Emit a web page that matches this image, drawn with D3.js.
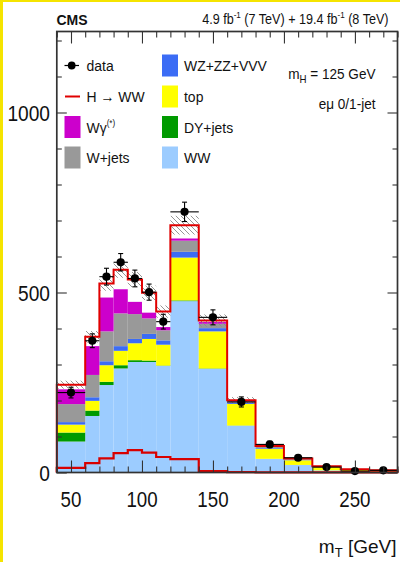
<!DOCTYPE html>
<html><head><meta charset="utf-8">
<script src="https://cdn.jsdelivr.net/npm/d3@7"></script>
<style>body{margin:0;background:#fff}svg{display:block}text{font-family:"Liberation Sans",Arial,sans-serif;fill:#111}</style>
</head><body><svg id="c" width="400" height="562"></svg>
<script>
// ---- data ----
const binEdges = [40,60,70,80,90,100,110,120,140,160,180,200,220,240,260,280];
const ww    = [86,157,243,289,307,307,296,476,288,130,38,21,6,3,2];
const dyj   = [25,15,9,9,5,4,1,2,1,0.5,0,0,0,0,0];
const topq  = [22,27,46,40,47,60,58,119,103,60,28,13,9,4,3];
const vvv   = [7,10,11,13,12,14,12,16,9,4,2,1.5,0.7,0.3,0.3];
const wjets = [50,62,83,91,69,43,28,31,12,3,3,2,1,1,0.7];
const wgam  = [41,80,94,67,34,16,9,6,5,2,2,1,0.5,0.5,0.3];
const hww   = [13,26,39,54,62,55,43,37,4,1,0.5,0.3,0.2,0.1,0.1];
const dataV = [222,366,544,584,539,501,419,724,431,196,78,41,15,4,6];
const totUnc = [11,16,20,22,21,20,17,26,17,9,4,2,1,0.5,0.5];
const xMajor = [50,100,150,200,250];
const yMajor = [0,500,1000];

const svg = d3.select("#c");
const L=56.8, R=397.5, T=31.5, B=472.5;
const x = d3.scaleLinear().domain([40,280]).range([L,R]);
const y = d3.scaleLinear().domain([0,1225]).range([B,T]);

// yellow page border
svg.append("rect").attr("x",0).attr("y",0).attr("width",3).attr("height",562).attr("fill","#f5e400");
svg.append("rect").attr("x",0).attr("y",0).attr("width",400).attr("height",2).attr("fill","#f5e400");

const comps = [
  {name:"WW", vals:ww, col:"#9cccff"},
  {name:"DY+jets", vals:dyj, col:"#009a00"},
  {name:"top", vals:topq, col:"#ffff00"},
  {name:"WZ+ZZ+VVV", vals:vvv, col:"#3b6cf5"},
  {name:"W+jets", vals:wjets, col:"#999999"},
  {name:"Wg", vals:wgam, col:"#cc00cc"}
];
const nb = dataV.length;
const bins = d3.range(nb).map(i=>({x0:binEdges[i],x1:binEdges[i+1]}));
const plot = svg.append("g");
const cum = new Array(nb).fill(0);
comps.forEach(c=>{
  bins.forEach((b,i)=>{
    const lo=cum[i], hi=cum[i]+c.vals[i];
    if (c.vals[i]>0) plot.append("rect").attr("x",x(b.x0)).attr("width",x(b.x1)-x(b.x0))
      .attr("y",y(hi)).attr("height",y(lo)-y(hi)).attr("fill",c.col);
    cum[i]=hi;
  });
});
const total = cum.map((v,i)=>v+hww[i]);

// hatch pattern
const defs = svg.append("defs");
const pat = defs.append("pattern").attr("id","hatch").attr("patternUnits","userSpaceOnUse").attr("width",5).attr("height",5);
pat.append("path").attr("d","M0,0L5,5M-1,4L1,6M4,-1L6,1").attr("stroke","#8a8a8a").attr("stroke-width",0.9);
bins.forEach((b,i)=>{
  plot.append("rect").attr("x",x(b.x0)).attr("width",x(b.x1)-x(b.x0))
    .attr("y",y(total[i]+totUnc[i])).attr("height",y(total[i]-totUnc[i])-y(total[i]+totUnc[i]))
    .attr("fill","url(#hatch)");
});

function stepPts(vals){
  const p=[[x(binEdges[0]),y(0)]];
  vals.forEach((v,i)=>{p.push([x(binEdges[i]),y(v)]);p.push([x(binEdges[i+1]),y(v)]);});
  p.push([x(binEdges[nb]),y(0)]);
  return p;
}
const line = d3.line();
plot.append("path").attr("d",line(stepPts(total))).attr("fill","none").attr("stroke","#e00000").attr("stroke-width",2);
plot.append("path").attr("d",line(stepPts(hww))).attr("fill","none").attr("stroke","#d80000").attr("stroke-width",2.2);

// data points
bins.forEach((b,i)=>{
  const v=dataV[i], e=Math.sqrt(v), cx=x((b.x0+b.x1)/2);
  const g=plot.append("g").attr("stroke","#000").attr("stroke-width",1.1);
  g.append("line").attr("x1",x(b.x0)).attr("x2",x(b.x1)).attr("y1",y(v)).attr("y2",y(v));
  g.append("line").attr("x1",cx).attr("x2",cx).attr("y1",y(v+e)).attr("y2",y(Math.max(0,v-e)));
  g.append("line").attr("x1",cx-2.5).attr("x2",cx+2.5).attr("y1",y(v+e)).attr("y2",y(v+e));
  g.append("line").attr("x1",cx-2.5).attr("x2",cx+2.5).attr("y1",y(Math.max(0,v-e))).attr("y2",y(Math.max(0,v-e)));
  plot.append("circle").attr("cx",cx).attr("cy",y(v)).attr("r",4.1).attr("fill","#000");
});

// axes ticks (inward)
const xMinor = d3.range(40,281,10).filter(v=>!xMajor.includes(v));
const yMinor = d3.range(0,1201,100).filter(v=>!yMajor.includes(v));
function ax(gen, tr){ const g=svg.append("g").attr("transform",tr).call(gen); g.select(".domain").remove(); g.selectAll("text").remove(); g.selectAll("line").attr("stroke","#333").attr("stroke-width",1.1); }
ax(d3.axisBottom(x).tickValues(xMajor).tickSize(-12), `translate(0,${B})`);
ax(d3.axisBottom(x).tickValues(xMinor).tickSize(-6), `translate(0,${B})`);
ax(d3.axisTop(x).tickValues(xMajor).tickSize(-12), `translate(0,${T})`);
ax(d3.axisTop(x).tickValues(xMinor).tickSize(-6), `translate(0,${T})`);
ax(d3.axisLeft(y).tickValues(yMajor).tickSize(-10), `translate(${L},0)`);
ax(d3.axisLeft(y).tickValues(yMinor).tickSize(-5), `translate(${L},0)`);
ax(d3.axisRight(y).tickValues(yMajor).tickSize(-10), `translate(${R},0)`);
ax(d3.axisRight(y).tickValues(yMinor).tickSize(-5), `translate(${R},0)`);
svg.append("rect").attr("x",L).attr("y",T).attr("width",R-L).attr("height",B-T).attr("fill","none").attr("stroke","#333").attr("stroke-width",1.7);

// text helper
function txt(x0,y0,size,anchor,sx,weight){
  return svg.append("text").attr("transform",`translate(${x0},${y0}) scale(${sx},1)`)
    .attr("font-size",size).attr("text-anchor",anchor).attr("font-weight",weight||"normal");
}
xMajor.forEach(v=>txt(x(v),506.5,21.5,"middle",0.87).text(v));
yMajor.forEach(v=>txt(50,y(v)+8,22,"end",0.87).text(v));

const xt = txt(396.5,553,19,"end",1.0);
xt.append("tspan").text("m");
xt.append("tspan").attr("font-size",13).attr("dy",4).text("T");
xt.append("tspan").attr("dy",-4).text(" [GeV]");

txt(56.5,25,14,"start",1.0,"bold").text("CMS");
const lu = txt(388.5,23.5,14,"end",0.9);
lu.append("tspan").text("4.9 fb");
lu.append("tspan").attr("font-size",9).attr("dy",-6).text("-1");
lu.append("tspan").attr("dy",6).text(" (7 TeV) + 19.4 fb");
lu.append("tspan").attr("font-size",9).attr("dy",-6).text("-1");
lu.append("tspan").attr("dy",6).text(" (8 TeV)");

const mh = txt(375.5,78.5,14,"end",0.97);
mh.append("tspan").text("m");
mh.append("tspan").attr("font-size",10).attr("dy",4).text("H");
mh.append("tspan").attr("dy",-4).text(" = 125 GeV");
txt(375.5,108.5,14,"end",0.97).text("eμ 0/1-jet");

// legend
const rows=[65.5,96.5,127,157.5];
const lg = svg.append("g");
lg.append("line").attr("x1",64.5).attr("x2",79).attr("y1",rows[0]).attr("y2",rows[0]).attr("stroke","#000").attr("stroke-width",1.2);
lg.append("circle").attr("cx",71.7).attr("cy",rows[0]).attr("r",3.9).attr("fill","#000");
txt(86.5,rows[0]+5.5,15.5,"start",0.9).text("data");
lg.append("line").attr("x1",65).attr("x2",80).attr("y1",rows[1]).attr("y2",rows[1]).attr("stroke","#e00000").attr("stroke-width",2);
txt(86.5,rows[1]+5.5,15.5,"start",0.9).text("H → WW");
const legBoxes=[
  {col:comps[5].col, x0:64.5, r:2, label:"Wγ", sup:"(*)"},
  {col:comps[4].col, x0:64.5, r:3, label:"W+jets"},
  {col:comps[3].col, x0:162, r:0, label:"WZ+ZZ+VVV"},
  {col:comps[2].col, x0:162, r:1, label:"top"},
  {col:comps[1].col, x0:162, r:2, label:"DY+jets"},
  {col:comps[0].col, x0:162, r:3, label:"WW"}
];
legBoxes.forEach(b=>{
  lg.append("rect").attr("x",b.x0).attr("y",rows[b.r]-11).attr("width",16).attr("height",22).attr("fill",b.col);
  const t=txt(b.x0+22,rows[b.r]+5.5,15.5,"start",0.9);
  t.append("tspan").text(b.label);
  if(b.sup) t.append("tspan").attr("font-size",9).attr("dy",-7).text(b.sup);
});
</script></body></html>
